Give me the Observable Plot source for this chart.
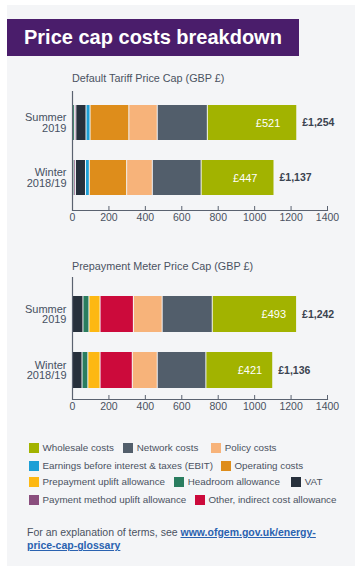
<!DOCTYPE html>
<html>
<head>
<meta charset="utf-8">
<script src="https://cdn.jsdelivr.net/npm/d3@7"></script>
<script src="https://cdn.jsdelivr.net/npm/@observablehq/plot@0.6"></script>
<style>
  html, body { margin: 0; padding: 0; background: #ffffff; }
  body { width: 364px; height: 574px; position: relative; overflow: hidden;
         font-family: "Liberation Sans", Arial, Helvetica, sans-serif; color: #4a5261; }
  #panel { position: absolute; left: 7px; top: 5px; width: 348px; height: 561px; background: #f4f5f7; }
  #title { position: absolute; left: 7px; top: 19px; width: 292px; height: 37px; background: #4a1d6b;
           color: #ffffff; font-weight: bold; font-size: 20px; line-height: 37px; box-sizing: border-box; padding-left: 17px; }
  .ctitle { position: absolute; left: 72px; font-size: 10.8px; color: #4a5261; line-height: 12px; }
  .plot { position: absolute; left: 0; }
  .leg { position: absolute; font-size: 9.8px; color: #4a5261; line-height: 12px; white-space: nowrap; }
  .sw { position: absolute; width: 10px; height: 10px; }
  #foot { position: absolute; left: 27px; top: 526px; font-size: 10.5px; line-height: 13.4px; color: #4a5261; }
  #foot a { color: #2a62b0; font-weight: bold; text-decoration: underline; }
</style>
</head>
<body>
<div id="panel"></div>
<div id="title">Price cap costs breakdown</div>
<div class="ctitle" style="top:72px">Default Tariff Price Cap (GBP £)</div>
<div class="ctitle" style="top:259.5px">Prepayment Meter Price Cap (GBP £)</div>
<div id="plot1" class="plot" style="top:60px"></div>
<div id="plot2" class="plot" style="top:250px"></div>
<div id="legend"></div>
<div id="foot">For an explanation of terms, see <a href="#">www.ofgem.gov.uk/energy-<br>price-cap-glossary</a></div>
<script>
// ---- data ----
const periods = ["Summer 2019", "Winter 2018/19"];
const periodLabels = ["Summer\n2019", "Winter\n2018/19"];
const xTicks = [0, 200, 400, 600, 800, 1000, 1200, 1400];

const categories = [
  "Wholesale costs", "Network costs", "Policy costs",
  "Earnings before interest & taxes (EBIT)", "Operating costs",
  "Prepayment uplift allowance", "Headroom allowance", "VAT",
  "Payment method uplift allowance", "Other, indirect cost allowance"
];
const categoryColors = [
  "#a2b300", "#525e6b", "#f7b37a",
  "#1d9fd6", "#de8d1b",
  "#fdb813", "#2a7d5f", "#27303c",
  "#8a4e7e", "#cc0a3b"
];

const defaultComponents = [
  "Headroom allowance", "Payment method uplift allowance", "VAT",
  "Earnings before interest & taxes (EBIT)", "Operating costs",
  "Policy costs", "Network costs", "Wholesale costs"
];
const defaultSummer = [13, 8, 56, 22, 213, 156, 275, 491];
const defaultWinter = [10, 9, 55, 21, 205, 141, 268, 400];
const defaultWholesaleLabels = ["£521", "£447"];
const defaultTotalLabels = ["£1,254", "£1,137"];

const prepayComponents = [
  "VAT", "Headroom allowance", "Prepayment uplift allowance",
  "Other, indirect cost allowance", "Policy costs", "Network costs", "Wholesale costs"
];
const prepaySummer = [60, 33, 61, 183, 158, 275, 463];
const prepayWinter = [55, 32, 67, 177, 137, 267, 367];
const prepayWholesaleLabels = ["£493", "£421"];
const prepayTotalLabels = ["£1,242", "£1,136"];

// legend layout rows (item order as in the reference)
const legendRows = [
  ["Wholesale costs", "Network costs", "Policy costs"],
  ["Earnings before interest & taxes (EBIT)", "Operating costs"],
  ["Prepayment uplift allowance", "Headroom allowance", "VAT"],
  ["Payment method uplift allowance", "Other, indirect cost allowance"]
];

// ---- build ----
const axisColor = "#5a6270";
const textColor = "#4a5261";

function tidy(components, series) {
  const rows = [];
  series.forEach((vals, pi) => {
    vals.forEach((v, ci) => rows.push({period: periods[pi], component: components[ci], value: v}));
  });
  return rows;
}

function chart(components, series, wholesaleLabels, totalLabels, opts) {
  const rows = tidy(components, series);
  const totals = series.map(s => d3.sum(s));
  return Plot.plot({
    width: 364,
    height: opts.height,
    marginLeft: 72,
    marginRight: 37,
    marginTop: opts.marginTop,
    marginBottom: 25,
    style: {background: "transparent", fontFamily: "'Liberation Sans', Arial, sans-serif", color: textColor},
    x: {domain: [0, 1400], label: null},
    y: {domain: periods, range: opts.yRange, paddingInner: 0.364, paddingOuter: 0, label: null},
    color: {domain: categories, range: categoryColors},
    marks: [
      Plot.barX(rows, {x: "value", y: "period", fill: "component", insetLeft: 0.5, insetRight: 0.5}),
      Plot.ruleX([0], {stroke: axisColor, strokeWidth: 1.2}),
      Plot.frame({anchor: "bottom", stroke: axisColor, strokeWidth: 1.2}),
      Plot.ruleX(xTicks, {stroke: axisColor, insetTop: opts.height - opts.marginTop - 25 - 4}),
      Plot.axisX({ticks: xTicks, tickFormat: d => String(d), tickSize: 0, tickPadding: 3, fontSize: 10.5, label: null, fill: textColor}),
      Plot.axisY({tickSize: 0, tickPadding: 6, fontSize: 11, lineHeight: 0.98, label: null, fill: "#465061",
                  tickFormat: d => periodLabels[periods.indexOf(d)]}),
      Plot.text(periods, {x: (d, i) => totals[i], y: d => d, text: (d, i) => wholesaleLabels[i],
                          textAnchor: "end", dx: opts.labelDx, fill: "white", fontSize: 11}),
      Plot.text(periods, {x: (d, i) => totals[i], y: d => d, text: (d, i) => totalLabels[i],
                          textAnchor: "start", dx: 5, fill: "#3b4350", fontSize: 10.5, fontWeight: "bold"})
    ]
  });
}

document.getElementById("plot1").append(
  chart(defaultComponents, [defaultSummer, defaultWinter], defaultWholesaleLabels, defaultTotalLabels,
        {height: 175, marginTop: 31, yRange: [44.75, 136.05], labelDx: -17})
);
document.getElementById("plot2").append(
  chart(prepayComponents, [prepaySummer, prepayWinter], prepayWholesaleLabels, prepayTotalLabels,
        {height: 174, marginTop: 27, yRange: [45, 137.7], labelDx: -11})
);

// legend (HTML, positions per row)
const legendX = [
  [29, 123.3, 211.3],
  [29, 221],
  [29, 174.3, 291.3],
  [29, 195]
];
const legendY = [448.3, 465.7, 482.3, 500];
const legend = document.getElementById("legend");
legendRows.forEach((row, r) => {
  row.forEach((name, k) => {
    const sw = document.createElement("div");
    sw.className = "sw";
    sw.style.left = legendX[r][k] + "px";
    sw.style.top = (legendY[r] - 5) + "px";
    sw.style.background = categoryColors[categories.indexOf(name)];
    legend.append(sw);
    const t = document.createElement("div");
    t.className = "leg";
    t.style.left = (legendX[r][k] + 13.5) + "px";
    t.style.top = (legendY[r] - 6) + "px";
    t.textContent = name;
    legend.append(t);
  });
});
</script>
</body>
</html>
